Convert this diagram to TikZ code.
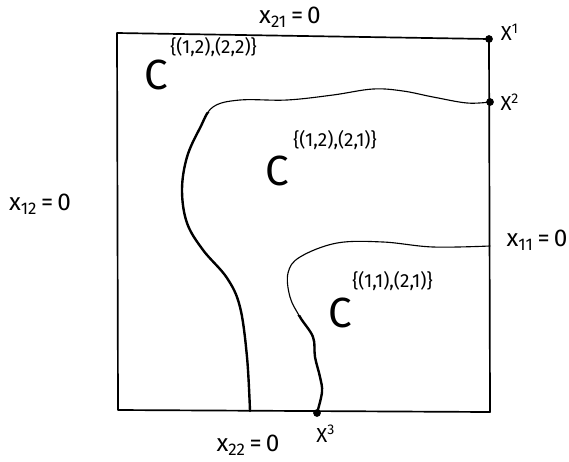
\documentclass[tikz,border=0pt]{standalone}
\usepackage{fontspec}
\setmainfont{Fira Sans}
\usepackage{tikz}
\usetikzlibrary{arrows.meta,positioning}

\begin{document}
\begin{tikzpicture}[x=0.025cm, y=-0.025cm, line cap=round, line join=round,
    every node/.style={font=\Large},
    thinline/.style={line width=0.8pt},
    thickline/.style={line width=1.7pt},
    region/.style={font=\fontsize{30}{30}\selectfont, inner sep=0pt},
    setlabel/.style={font=\fontsize{13.5}{14}\selectfont, anchor=south west, inner sep=0pt},
    marker/.style={circle, fill=black, inner sep=0pt, minimum size=5.5pt}]
  % Frame
  \useasboundingbox (0,0) rectangle (569,461);
  \coordinate (tl) at (117,33);
  \coordinate (tr) at (489,39);
  \coordinate (br) at (490,412);
  \coordinate (bl) at (118,410);
  \draw[line width=1.2pt] (tl) -- (tr) -- (br) -- (bl) -- cycle;

  % Points on the frame
  \node[marker] (x1) at (tr) {};
  \node[marker] (x2) at (490,102) {};
  \node[marker] (x3) at (317,413) {};
  \coordinate (x11) at (490,246);
  \coordinate (a) at (250,411);

  % Upper boundary (heavier once it turns down)
  \def\upper{plot[smooth, tension=0.6] coordinates {(x2) (467,103) (433,97) (403,91) (373,89) (333,95) (287,100) (240,100) (213,107) (200,128) (187,157) (182,190) (187,223) (203,250) (227,278) (240,307) (247,357) (a)}}
  \draw[thinline] \upper;
  \begin{scope}
    \clip (0,112) rectangle (569,461);
    \draw[thickline] \upper;
  \end{scope}

  % Lower boundary (heavier near the bottom)
  \def\lower{plot[smooth, tension=0.6] coordinates {(x11) (433,247) (383,242) (337,243) (300,257) (288,273) (290,297) (300,317) (313,337) (315,357) (320,377) (322,392) (x3)}}
  \draw[thinline] \lower;
  \begin{scope}
    \clip (0,315) rectangle (569,461);
    \draw[thickline] \lower;
  \end{scope}

  % Labels
  \node[font=\LARGE] (l21) at (290,17) {x\textsubscript{21}\,=\,0};
  \node[font=\LARGE] (l12) at (40,204) {x\textsubscript{12}\,=\,0};
  \node[font=\LARGE] (l11) at (537,240) {x\textsubscript{11}\,=\,0};
  \node[font=\LARGE] (l22) at (248,445) {x\textsubscript{22}\,=\,0};
  \node[right=2pt of x1, yshift=5pt] (lx1) {X\textsuperscript{1}};
  \node[right=1pt of x2] (lx2) {X\textsuperscript{2}};
  \node[below right=3pt and -6pt of x3] (lx3) {X\textsuperscript{3}};

  % Regions
  \node[region] (c1) at (156,75) {C};
  \node[setlabel] (s1) at (170,57) {\{(1,2),(2,2)\}};
  \node[region] (c2) at (277,171) {C};
  \node[setlabel] (s2) at (293,150) {\{(1,2),(2,1)\}};
  \node[region] (c3) at (340,313) {C};
  \node[setlabel] (s3) at (352,291) {\{(1,1),(2,1)\}};
\end{tikzpicture}
\end{document}
